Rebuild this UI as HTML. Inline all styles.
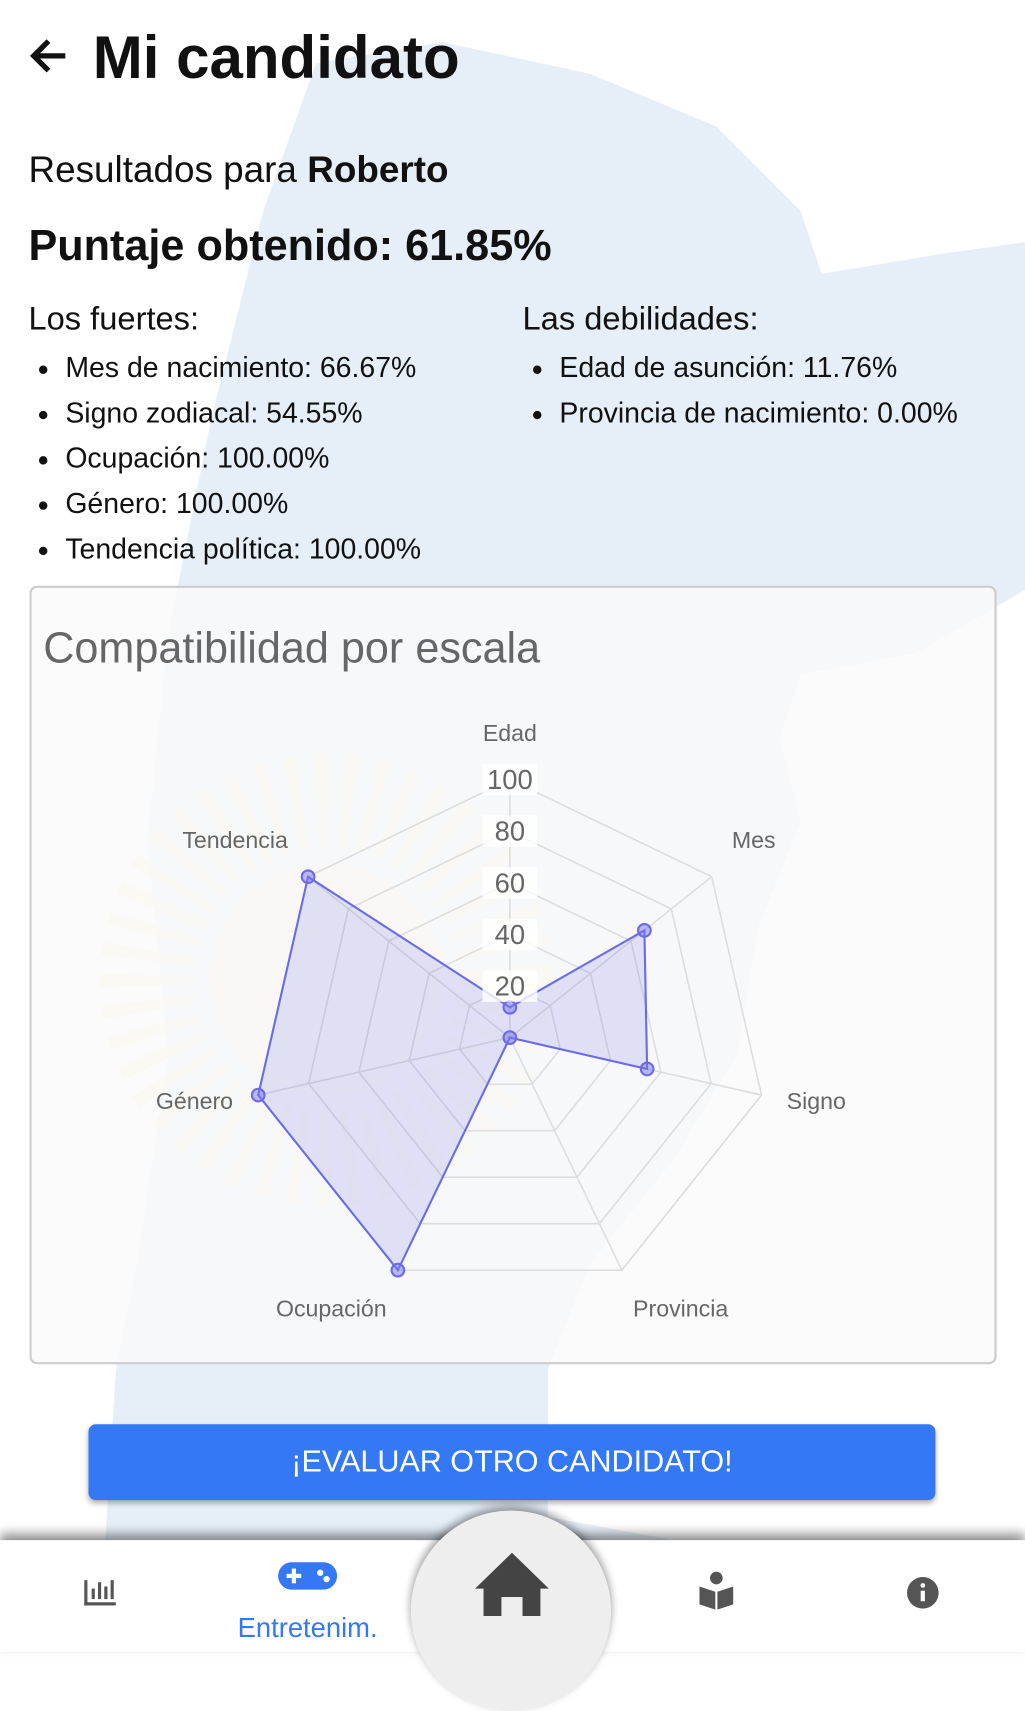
<!DOCTYPE html>
<html><head><meta charset="utf-8">
<style>
html,body{margin:0;padding:0;width:1025px;height:1652px;overflow:hidden;background:#fff;}
#wrap{position:absolute;left:0;top:0;width:973px;height:1568px;transform:scale(1.05344);transform-origin:0 0;font-family:"Liberation Sans",sans-serif;color:#111;}
.abs{position:absolute;}
ul{margin:0;padding:0;list-style:none;}
li{position:relative;padding-left:35px;font-size:27px;height:43px;line-height:43px;}
li:before{content:"";position:absolute;left:10px;top:19px;width:8px;height:8px;border-radius:50%;background:#111;}
</style></head><body>
<div id="wrap">
<svg class="abs" style="left:0;top:0" width="973" height="1568">
<path d="M300 60 L420 40 L560 70 L680 120 L760 200 L780 260 L900 240 L973 230 L973 560 L870 620 L760 640 L740 700 L760 780 L720 880 L700 1000 L640 1100 L560 1200 L520 1300 L520 1440 L640 1462 L100 1462 L110 1300 L130 1200 L160 1000 L140 800 L160 600 L200 400 L250 200 Z" fill="#dde9f6" opacity="0.75"/>
<circle cx="310" cy="930" r="170" fill="none" stroke="#f6e2a8" stroke-width="90" stroke-dasharray="10 14" opacity="0.5"/>
<circle cx="310" cy="930" r="110" fill="#fbefc4" opacity="0.55"/>
</svg>
<svg class="abs" style="left:28px;top:36px" width="38" height="34"><path d="M18 3 L4 17 L18 31 M4 17 L34 17" stroke="#111" stroke-width="5" fill="none"/></svg>
<div class="abs" style="left:88px;top:22px;font-size:57px;font-weight:bold">Mi candidato</div>
<div class="abs" style="left:27px;top:142px;font-size:35px">Resultados para <b>Roberto</b></div>
<div class="abs" style="left:27px;top:210px;font-size:41px;font-weight:bold">Puntaje obtenido: 61.85%</div>
<div class="abs" style="left:27px;top:285px;font-size:31px">Los fuertes:</div>
<ul class="abs" style="left:27px;top:328px">
<li>Mes de nacimiento: 66.67%</li>
<li>Signo zodiacal: 54.55%</li>
<li>Ocupación: 100.00%</li>
<li>Género: 100.00%</li>
<li>Tendencia política: 100.00%</li>
</ul>
<div class="abs" style="left:496px;top:285px;font-size:31px">Las debilidades:</div>
<ul class="abs" style="left:496px;top:328px">
<li>Edad de asunción: 11.76%</li>
<li>Provincia de nacimiento: 0.00%</li>
</ul>
<div class="abs" style="left:28px;top:556px;width:914px;height:735px;border:2px solid #ccc;border-radius:7px;background:rgba(250,250,250,0.85)"></div>
<div class="abs" style="left:41px;top:592px;font-size:41px;color:#666">Compatibilidad por escala</div>
<svg id="radar" class="abs" style="left:0;top:0" width="973" height="1568"></svg>
<div class="abs" style="left:84px;top:1352px;width:804px;height:72px;background:#3478f6;border-radius:7px;color:#fff;font-size:29px;text-align:center;line-height:72px;box-shadow:0 3px 5px rgba(0,0,0,0.3)">¡EVALUAR OTRO CANDIDATO!</div>
<div class="abs" style="left:0;top:1462px;width:973px;height:106px;background:#fff;box-shadow:0 -6px 10px rgba(0,0,0,0.45)"></div>
<div class="abs" style="left:390px;top:1434px;width:190px;height:190px;border-radius:50%;background:#eee;box-shadow:0 -4px 8px rgba(0,0,0,0.4)"></div>
<svg class="abs" style="left:0;top:1462px" width="973" height="106">
<g fill="#555"><rect x="80" y="38" width="3" height="24"/><rect x="80" y="59" width="30" height="3"/><rect x="87" y="46" width="3" height="10"/><rect x="93" y="40" width="3" height="16"/><rect x="99" y="44" width="3" height="12"/><rect x="105" y="38" width="3" height="18"/></g>
<g><rect x="264" y="21" width="56" height="26" rx="13" fill="#3478f6"/><rect x="272" y="32" width="14" height="4" fill="#fff"/><rect x="277" y="27" width="4" height="14" fill="#fff"/><circle cx="304" cy="31" r="3" fill="#fff"/><circle cx="310" cy="37" r="3" fill="#fff"/>
<text x="292" y="92" font-size="26" fill="#3478f6" text-anchor="middle" font-family="Liberation Sans">Entretenim.</text></g>
<g fill="#444"><path d="M486 12 L521 46 L513 46 L513 72 L496 72 L496 54 L476 54 L476 72 L459 72 L459 46 L451 46 Z"/></g>
<g fill="#555"><circle cx="680" cy="36" r="6"/><path d="M664 44 L679 49 L679 66 L664 61 Z M681 49 L696 44 L696 61 L681 66 Z"/></g>
<g><circle cx="876" cy="50" r="15" fill="#555"/><rect x="874" y="48" width="4" height="10" fill="#fff"/><circle cx="876" cy="43" r="2.2" fill="#fff"/></g>
</svg>
</div>
<script>
const categories=["Edad","Mes","Signo","Provincia","Ocupación","Género","Tendencia"];
const values=[11.76,66.67,54.55,0,100,100,100];
const ticks=[20,40,60,80,100];
const cx=484,cy=985,R=245,maxV=100;
const svg=document.getElementById('radar');
const NS='http://www.w3.org/2000/svg';
function ang(i){return -Math.PI/2+i*2*Math.PI/categories.length;}
function pt(i,v){const r=v/maxV*R;return [cx+r*Math.cos(ang(i)),cy+r*Math.sin(ang(i))];}
function mk(t,a){const e=document.createElementNS(NS,t);for(const k in a)e.setAttribute(k,a[k]);svg.appendChild(e);return e;}
ticks.forEach(t=>{const p=mk('polygon',{points:categories.map((c,i)=>pt(i,t).join(',')).join(' '),fill:'none',stroke:'#ddd','stroke-width':1.5});

});
categories.forEach((c,i)=>{const [x,y]=pt(i,100);const l=mk('line',{x1:cx,y1:cy,x2:x,y2:y,stroke:'#ddd','stroke-width':1.5});


const [lx,ly]=pt(i,110);const co=Math.cos(ang(i)),si=Math.sin(ang(i));
const anchor=Math.abs(co)<0.1?'middle':(co>0?'start':'end');
const by=si<-0.3?ly-12:(si>0.3?ly+22:ly+8);
const tx=mk('text',{x:lx,y:by,'font-size':22,fill:'#666','text-anchor':anchor,'font-family':'Liberation Sans'});tx.textContent=c;

});
const poly=mk('polygon',{points:values.map((v,i)=>pt(i,v).join(',')).join(' '),fill:'rgba(110,110,230,0.18)',stroke:'#6b6be8','stroke-width':2});


values.forEach((v,i)=>{const [x,y]=pt(i,v);const c=mk('circle',{cx:x,cy:y,r:6,fill:'rgba(120,120,235,0.5)',stroke:'#6b6be8','stroke-width':2});

});
ticks.forEach(t=>{const [x,y]=pt(0,t);mk('rect',{x:x-26,y:y-15,width:52,height:30,fill:'rgba(255,255,255,0.8)'});
const tx=mk('text',{x:x,y:y+9,'font-size':26,fill:'#666','text-anchor':'middle','font-family':'Liberation Sans'});tx.textContent=t;

});
</script>
</body></html>
